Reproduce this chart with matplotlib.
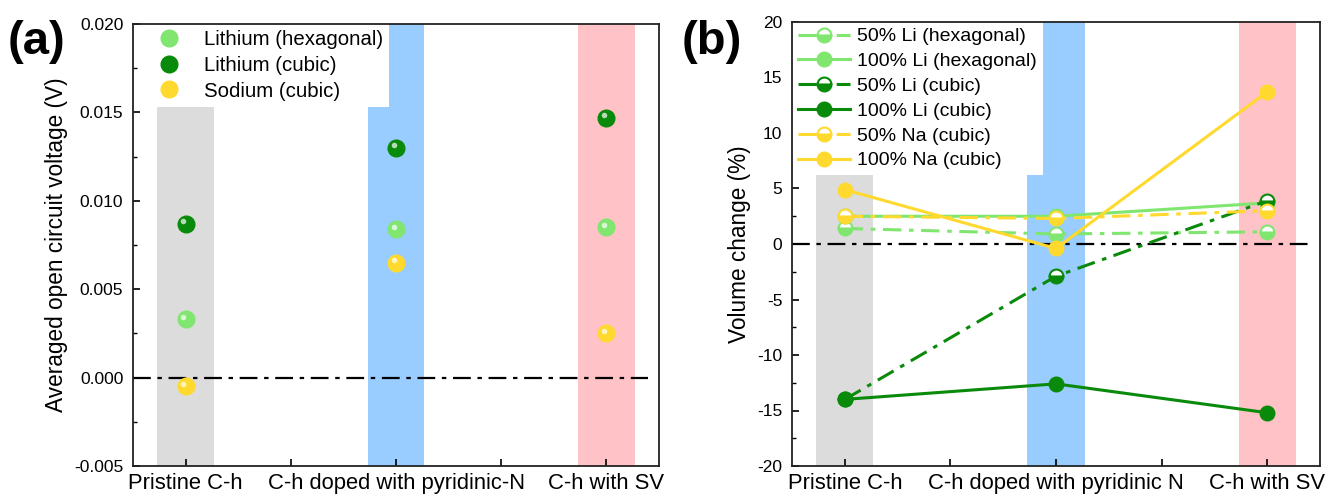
import numpy as np
import matplotlib.pyplot as plt
from matplotlib.transforms import offset_copy

plt.rcParams['font.family'] = ['Liberation Sans', 'DejaVu Sans']
plt.rcParams['axes.unicode_minus'] = False

# категории
categories = ['Pristine C-h', 'C-h doped with pyridinic-N', 'C-h with SV']
categories_b = ['Pristine C-h', 'C-h doped with pyridinic N', 'C-h with SV']
bar_colors = ['#dcdcdc', '#99ccff', '#ffc2c6']

# (a) averaged open circuit voltage, V
ocv_li_hex = [0.0033, 0.0084, 0.0085]
ocv_li_cub = [0.0087, 0.0130, 0.0147]
ocv_na_cub = [-0.0005, 0.0065, 0.0025]

# (b) volume change, %
vol_li_hex_50 = [1.4, 0.9, 1.1]
vol_li_hex_100 = [2.5, 2.5, 3.7]
vol_li_cub_50 = [-14.0, -2.9, 3.9]
vol_li_cub_100 = [-14.0, -12.6, -15.2]
vol_na_cub_50 = [2.5, 2.3, 3.0]
vol_na_cub_100 = [4.9, -0.4, 13.7]

c_light = '#80e670'
c_dark = '#0a8a0a'
c_yellow = '#ffd92e'

x = np.arange(1, 4)

fig = plt.figure(figsize=(13.27, 4.95), dpi=100)
ax1 = fig.add_axes([133 / 1327, 1 - 466 / 495, (659 - 133) / 1327, (466 - 24) / 495])
ax2 = fig.add_axes([792 / 1327, 1 - 466 / 495, (1320 - 792) / 1327, (466 - 22) / 495])


def setup(ax, labels):
    for xi, c in zip(x, bar_colors):
        ax.axvspan(xi - 0.135, xi + 0.135, color=c, lw=0, zorder=0)
    ax.set_xlim(0.75, 3.25)
    ax.set_xticks(x)
    ax.set_xticklabels(labels, fontsize=15.8)
    ax.set_xticks([1.5, 2.5], minor=True)
    ax.tick_params(axis='both', which='both', direction='in')
    ax.tick_params(axis='x', which='both', length=5, width=1.2, pad=5)
    ax.tick_params(axis='y', which='major', length=5, width=1.2, labelsize=12.5, pad=7)
    ax.tick_params(axis='y', which='minor', length=3, width=1.0)
    ax.hlines(0, 0.75, 3.2, colors='black', linestyles=(0, (8, 3, 2, 3)), lw=1.6, zorder=2)
    for s in ax.spines.values():
        s.set_linewidth(1.3)
        s.set_color('#222222')


# ---- (a)
setup(ax1, categories)
hl = offset_copy(ax1.transData, fig=fig, x=-2.5, y=2.5, units='dots')
for vals, col, lab in [(ocv_li_hex, c_light, 'Lithium (hexagonal)'),
                       (ocv_li_cub, c_dark, 'Lithium (cubic)'),
                       (ocv_na_cub, c_yellow, 'Sodium (cubic)')]:
    ax1.plot(x, vals, 'o', ms=12, color=col, mec=col, label=lab, zorder=3)
    ax1.plot(x, vals, 'o', ms=4, color='white', mec='none', alpha=0.7,
             transform=hl, zorder=4)
ax1.set_ylim(-0.005, 0.020)
ax1.set_yticks([-0.005, 0.0, 0.005, 0.010, 0.015, 0.020])
ax1.set_yticklabels(['-0.005', '0.000', '0.005', '0.010', '0.015', '0.020'])
ax1.set_yticks(np.arange(-0.0025, 0.02, 0.005), minor=True)
ax1.set_ylabel('Averaged open circuit voltage (V)', fontsize=16.3, labelpad=4)
leg1 = ax1.legend(loc='upper left', bbox_to_anchor=(14 / 526, 1), fontsize=14.7,
                  frameon=True, fancybox=False, framealpha=1, edgecolor='none',
                  handletextpad=0.9, borderaxespad=0, labelspacing=0.33,
                  borderpad=0.3, handlelength=1.6)
leg1.set_zorder(2.4)
fig.text(8 / 1327, 1 - 42 / 495, '(a)', fontsize=34, fontweight='bold', va='center')

# ---- (b)
setup(ax2, categories_b)
lines = [
    (vol_li_hex_50, c_light, '-.', 'bottom', '50% Li (hexagonal)'),
    (vol_li_hex_100, c_light, '-', 'full', '100% Li (hexagonal)'),
    (vol_li_cub_50, c_dark, '-.', 'bottom', '50% Li (cubic)'),
    (vol_li_cub_100, c_dark, '-', 'full', '100% Li (cubic)'),
    (vol_na_cub_50, c_yellow, '-.', 'bottom', '50% Na (cubic)'),
    (vol_na_cub_100, c_yellow, '-', 'full', '100% Na (cubic)'),
]
for vals, col, ls, fs, lab in lines:
    if ls == '-.':
        ls = (0, (6, 2.5, 1.5, 2.5))
    ax2.plot(x, vals, linestyle=ls, color=col, lw=2.2, marker='o', ms=10,
             fillstyle=fs, markerfacecoloralt='white', mec=col, mew=1.5,
             label=lab, zorder=3)
ax2.set_ylim(-20, 20)
ax2.set_yticks(np.arange(-20, 21, 5))
ax2.set_yticks(np.arange(-17.5, 20, 5), minor=True)
ax2.set_ylabel('Volume change (%)', fontsize=16.3, labelpad=4)
leg2 = ax2.legend(loc='upper left', fontsize=14, frameon=True, fancybox=False,
                  framealpha=1, edgecolor='none', handletextpad=0.35,
                  borderaxespad=0, labelspacing=0.37, borderpad=0.3,
                  handlelength=2.7)
leg2.set_zorder(2.4)
fig.text(682 / 1327, 1 - 42 / 495, '(b)', fontsize=34, fontweight='bold', va='center')

fig.savefig('out.png', dpi=100)
